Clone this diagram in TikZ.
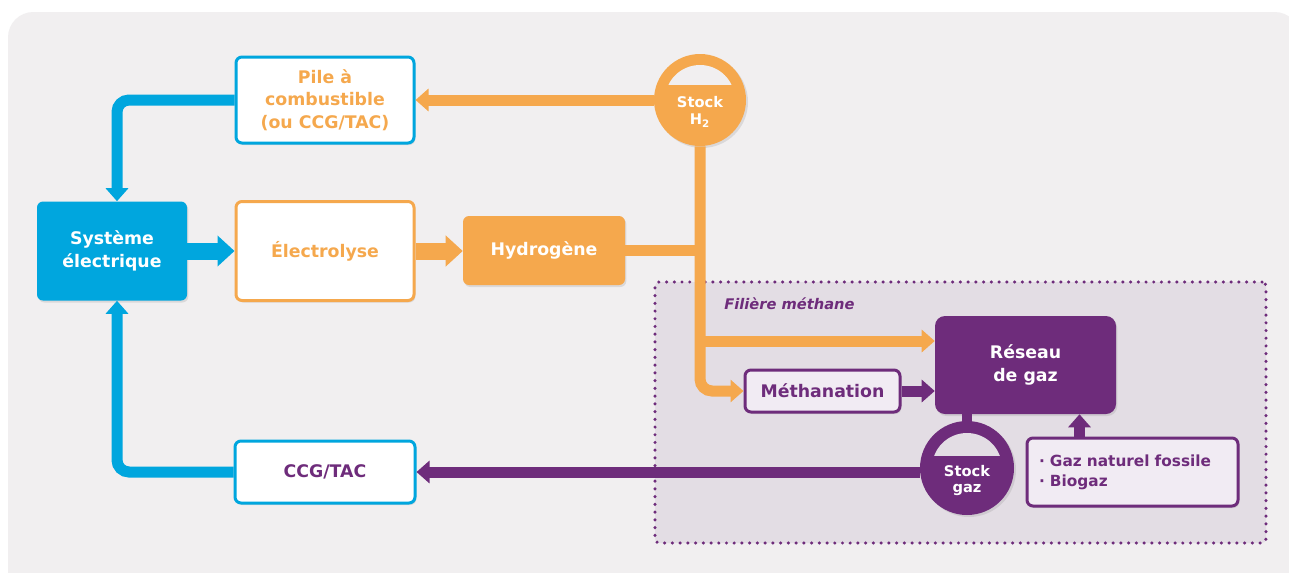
\documentclass[tikz,border=0pt]{standalone}
\usepackage{fontspec}
\setmainfont{DejaVu Sans}
\usetikzlibrary{arrows.meta,positioning,shadows}

\definecolor{bleu}{HTML}{00A6DE}
\definecolor{orange}{HTML}{F5A84D}
\definecolor{violet}{HTML}{6E2C7B}
\definecolor{fond}{HTML}{F1EFF0}
\definecolor{zone}{HTML}{E3DDE4}
\definecolor{mauve}{HTML}{F1EBF3}

\begin{document}
\begin{tikzpicture}[x=0.75pt,y=-0.75pt,font=\bfseries,
                    >={Triangle[width=16.5pt,length=9.75pt]}]
	  \tikzstyle{box}=[rectangle,rounded corners=4.5pt,align=center,inner sep=0pt,
	    font=\fontsize{13}{17}\selectfont\bfseries,
	    drop shadow={opacity=0.2,shadow xshift=1pt,shadow yshift=-1.5pt}]
	  \tikzstyle{stock}=[circle,minimum size=69pt,inner sep=0pt,
	    drop shadow={opacity=0.2,shadow xshift=1.5pt,shadow yshift=-1.5pt}]
	  \tikzstyle{stocktxt}=[align=center,text=white,inner sep=0pt,
	    font=\fontsize{11}{12.5}\selectfont\bfseries]
	  \tikzstyle{tube}=[line width=8.25pt]
	  \tikzstyle{fat}=[line width=12.75pt,-{Triangle[width=22.5pt,length=12.75pt]}]

	  \useasboundingbox (0,0) rectangle (1289,572);
	  \clip (0,0) rectangle (1289,572);
	  \fill[white] (0,0) rectangle (1289,572);
	  \fill[fond,rounded corners=19pt] (8,12) rectangle (1300,600);

	  % filiere methane
	  \node[rectangle,fill=zone,draw=violet,line width=2.6pt,line cap=round,
	        dash pattern=on 0pt off 5.8pt,rounded corners=3pt,
	        minimum width=458.25pt,minimum height=195.75pt] (filiere) at (960.5,412.5) {};
	  \node[anchor=west,inner sep=0pt,text=violet,
	        font=\fontsize{11}{13}\selectfont\bfseries\itshape] (lbl) at (724,304) {Filière méthane};

	  \node[box,fill=white,draw=bleu,line width=2.25pt,text=orange,
	        minimum width=133.5pt,minimum height=64.5pt] (pile) at (325,100) {Pile à\\combustible\\(ou CCG/TAC)};
	  \node[box,fill=bleu,text=white,
	        minimum width=112.5pt,minimum height=74.25pt] (sys) at (112,251) {Système\\électrique};
	  \node[box,fill=white,draw=orange,line width=2.25pt,text=orange,
	        minimum width=133.5pt,minimum height=74.25pt] (elec) at (325,251) {Électrolyse};
	  \node[box,fill=orange,text=white,
	        minimum width=121.5pt,minimum height=51.75pt] (hyd) at (544,250.5) {Hydrogène};
	  \node[box,fill=white,draw=bleu,line width=2.25pt,text=violet,
	        minimum width=135pt,minimum height=46.5pt] (ccg) at (325,472) {CCG/TAC};
	  \node[box,fill=mauve,draw=violet,line width=2.25pt,text=violet,
	        minimum width=116.25pt,minimum height=31.5pt] (meth) at (822.5,391) {Méthanation};
	  \node[box,fill=violet,text=white,rounded corners=7.5pt,
	        minimum width=135.75pt,minimum height=73.5pt] (reseau) at (1025.5,365) {Réseau\\de gaz};
	  \node[box,fill=mauve,draw=violet,line width=2.25pt,text=violet,align=left,
	        text width=140.25pt,inner xsep=9pt,minimum height=51pt,
	        font=\fontsize{11.5}{15}\selectfont\bfseries] (gaz) at (1132.5,472) {· Gaz naturel fossile\\· Biogaz};

	  % stocks
	  \node[stock,fill=orange] (SH2) at (700,100) {};
	  \begin{scope}
	    \clip (650,84) rectangle (750,50);
	    \fill[fond] (SH2.center) circle[radius=26.25pt];
	  \end{scope}
	  \node[stocktxt] (SH2txt) at ([yshift=-9pt]SH2.center) {Stock\\H\textsubscript{2}};

	  \node[stock,fill=violet,minimum size=70.5pt] (SG) at (967,468) {};
	  \begin{scope}
	    \clip (915,455) rectangle (1020,420);
	    \fill[zone] (SG.center) circle[radius=26.25pt];
	  \end{scope}
	  \node[stocktxt] (SGtxt) at ([yshift=-9.5pt]SG.center) {Stock\\gaz};

	  % flux
	  \coordinate (emb) at (SH2.south |- 0,341);
	  \draw[tube,orange,->] (SH2.west) -- (SH2.west -| pile.east);
	  \draw[fat,bleu] (sys) -- (elec);
	  \draw[fat,orange] (elec) -- (elec -| hyd.west);
	  \draw[tube,orange] (hyd.east) -- (hyd.east -| SH2.south);
	  \draw[tube,orange,->,rounded corners=9pt] (SH2.south) |- (meth.west);
	  \draw[tube,orange,->] (emb) -- (emb -| reseau.west);
	  \draw[tube,violet,->] (meth) -- (meth -| reseau.west);
	  \draw[line width=7.5pt,violet] (SG.north) -- (SG.north |- reseau.south);
	  \draw[tube,violet,->] ([xshift=-39.75pt]gaz.north) -- ([xshift=-39.75pt]gaz.north |- reseau.south);
	  \draw[tube,violet,->] (SG.west |- ccg) -- (ccg.east);
	  \draw[tube,bleu,->,rounded corners=9pt] (pile.west) -| ([xshift=3.75pt]sys.north);
	  \draw[tube,bleu,->,rounded corners=9pt] (ccg.west) -| ([xshift=3.75pt]sys.south);
	\end{tikzpicture}
\end{document}
